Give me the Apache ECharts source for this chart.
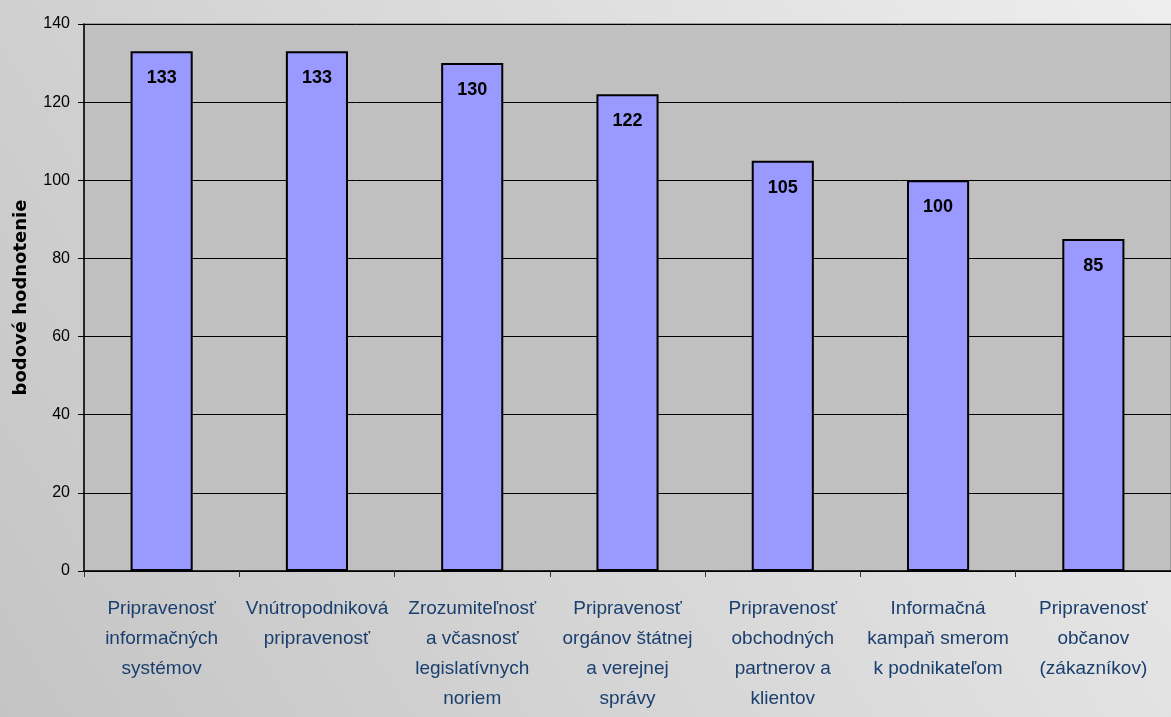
<!DOCTYPE html>
<html><head><meta charset="utf-8">
<script src="https://cdn.jsdelivr.net/npm/echarts@6/dist/echarts.min.js"></script>
<style>html,body{margin:0;padding:0;}#c{width:1171px;height:717px;}</style>
</head><body><div id="c"></div>
<script>
const categories = [
  "Pripravenosť\ninformačných\nsystémov",
  "Vnútropodniková\npripravenosť",
  "Zrozumiteľnosť\na včasnosť\nlegislatívnych\nnoriem",
  "Pripravenosť\norgánov štátnej\na verejnej\nsprávy",
  "Pripravenosť\nobchodných\npartnerov a\nklientov",
  "Informačná\nkampaň smerom\nk podnikateľom",
  "Pripravenosť\nobčanov\n(zákazníkov)"
];
const values = [133, 133, 130, 122, 105, 100, 85];
const yAxisName = "bodové hodnotenie";

const chart = echarts.init(document.getElementById('c'), null, {renderer:'canvas'});
chart.setOption({
  backgroundColor: {type:'linear', x:0, y:1, x2:1, y2:0, colorStops:[{offset:0,color:'#c4c4c4'},{offset:1,color:'#eeeeee'}]},
  animation:false,
  grid:{left:84, right:0, top:24, bottom:146, show:true, backgroundColor:'#c0c0c0', borderColor:'#8c8c8c', borderWidth:1.5},
  xAxis:{type:'category', data:categories,
    axisLine:{lineStyle:{color:'#000', width:1.5}},
    axisTick:{show:true, length:6, lineStyle:{color:'#333'}},
    axisLabel:{interval:0, color:'#1a3f6e', fontSize:19, fontFamily:'"Liberation Sans Narrow","Liberation Sans",Arial', lineHeight:30, margin:23}
  },
  yAxis:{type:'value', min:0, max:140, interval:20,
    name:yAxisName, nameLocation:'middle', nameGap:54, nameRotate:90,
    nameTextStyle:{color:'#000', fontSize:18, fontWeight:'bold', fontFamily:'"DejaVu Sans",Arial'},
    axisLine:{show:true, lineStyle:{color:'#000', width:1.5}},
    axisTick:{show:true, length:6, lineStyle:{color:'#000'}},
    axisLabel:{color:'#000', fontSize:16, fontFamily:'"Liberation Sans Narrow","Liberation Sans",Arial', margin:14},
    splitLine:{show:true, lineStyle:{color:'#000', width:1}}
  },
  series:[{type:'bar', data:values, barWidth:'40%',
    itemStyle:{color:'#9999ff', borderColor:'#000', borderWidth:2},
    label:{show:true, position:'insideTop', distance:18, color:'#000', fontSize:18, fontWeight:'bold', fontFamily:'"Liberation Sans Narrow","Liberation Sans",Arial'}
  }]
});
</script></body></html>
